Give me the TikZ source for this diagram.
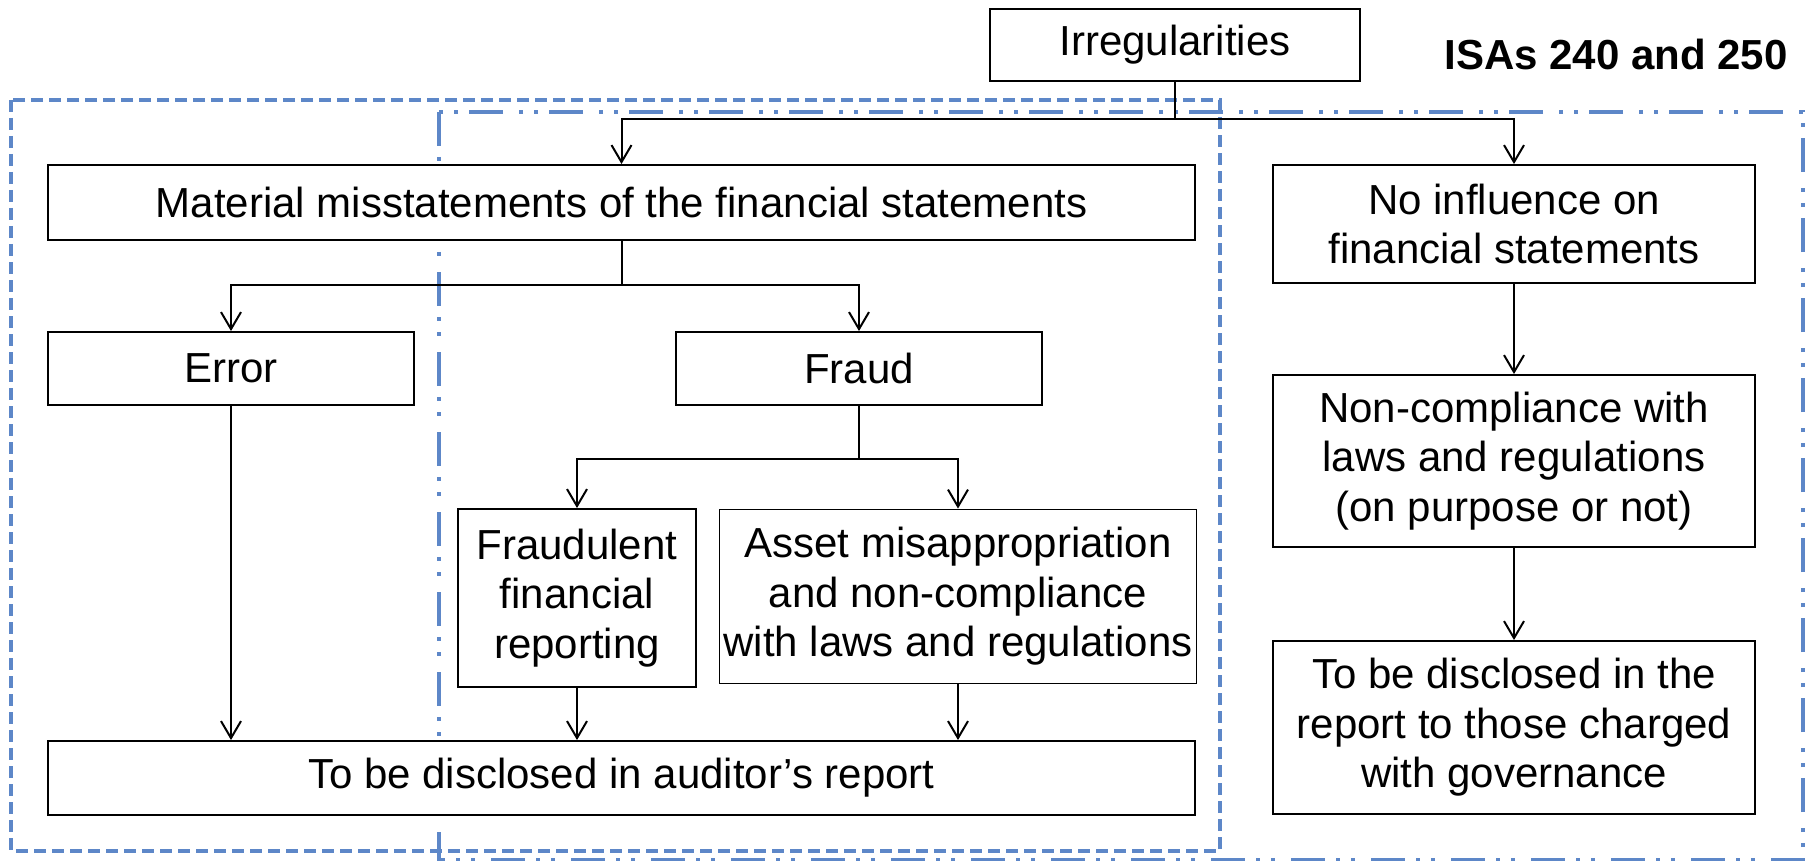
\documentclass[tikz,border=0pt]{standalone}
\usepackage{fontspec}
\setmainfont{Liberation Sans}
\usetikzlibrary{arrows.meta}
\definecolor{isablue}{RGB}{93,135,200}
\begin{document}
\begin{tikzpicture}[x=1pt,y=-1pt,
  box/.style={draw=black, line width=1.9pt, fill=white, inner sep=0pt, align=center, font=\fontsize{42}{49.5}\selectfont},
  conn/.style={line width=2pt, draw=black},
  arr/.style={conn, -{Straight Barb[length=17pt,width=20pt]}},
  outerbox/.style={draw=isablue, line width=4pt, dash pattern=on 12pt off 6pt},
  innerbox/.style={draw=isablue, line width=4pt, dash pattern=on 34pt off 11pt on 4pt off 11pt on 4pt off 16pt},
  title/.style={font=\fontsize{42}{50}\selectfont\bfseries, inner sep=0pt}]
\useasboundingbox (0,0) rectangle (1810,861);
% grouping frames
\draw[outerbox] (11,100) rectangle (1220,851);
\draw[innerbox] (439,112) rectangle (1803,860);
% nodes
\node[box, minimum width=370pt, minimum height=72pt] (irr) at (1175,45) {Irregularities};
\node[title] (isa) at (1616,54) {ISAs 240 and 250};
\node[box, minimum width=1147pt, minimum height=75pt] (mat) at (621.5,202.5) {Material misstatements of the financial statements};
\node[box, minimum width=482pt, minimum height=118pt] (noinf) at (1514,224) {No influence on\\financial statements};
\node[box, minimum width=366pt, minimum height=73pt] (err) at (231,368.5) {Error};
\node[box, minimum width=366pt, minimum height=73pt] (fraud) at (859,368.5) {Fraud};
\node[box, minimum width=238pt, minimum height=178pt] (ffr) at (577,598) {Fraudulent\\financial\\reporting};
\node[box, minimum width=477pt, minimum height=174pt] (asset) at (958,596.5) {Asset misappropriation\\and non-compliance\\with laws and regulations};
\node[box, minimum width=1147pt, minimum height=74pt] (aud) at (621.5,778) {To be disclosed in auditor’s report};
\node[box, minimum width=482pt, minimum height=172pt] (nc) at (1514,461) {Non-compliance with\\laws and regulations\\(on purpose or not)};
\node[box, minimum width=482pt, minimum height=173pt] (tcwg) at (1514,727.5) {To be disclosed in the\\report to those charged\\with governance};
% junctions
\coordinate (j1) at (1175,119);
\coordinate (j2) at (621.5,285);
\coordinate (j3) at (859,459);
% connectors
\draw[conn] (irr.south) -- (j1);
\draw[arr] (j1) -| (mat.north);
\draw[arr] (j1) -| (noinf.north);
\draw[conn] (mat.south) -- (j2);
\draw[arr] (j2) -| (err.north);
\draw[arr] (j2) -| (fraud.north);
\draw[conn] (fraud.south) -- (j3);
\draw[arr] (j3) -| (ffr.north);
\draw[arr] (j3) -| (asset.north);
\draw[arr] (err.south) -- (err.south |- aud.north);
\draw[arr] (ffr.south) -- (ffr.south |- aud.north);
\draw[arr] (asset.south) -- (asset.south |- aud.north);
\draw[arr] (noinf.south) -- (nc.north);
\draw[arr] (nc.south) -- (tcwg.north);
\end{tikzpicture}
\end{document}
